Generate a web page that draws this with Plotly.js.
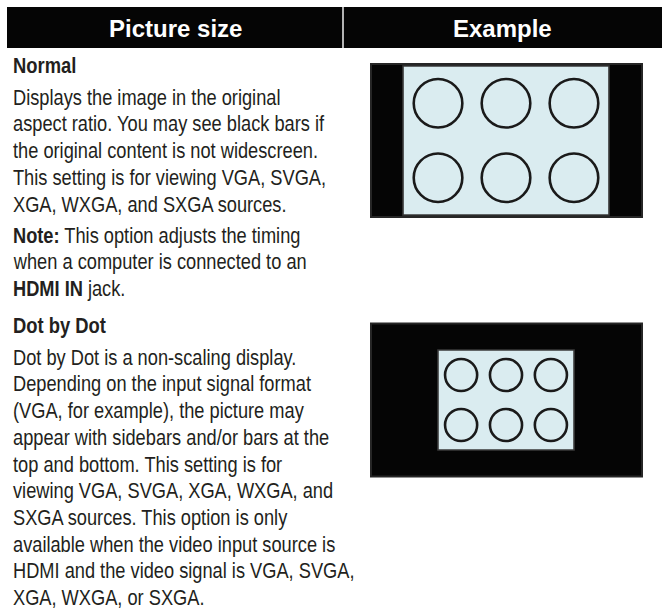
<!DOCTYPE html>
<html>
<head>
<meta charset="utf-8">
<script src="https://cdn.plot.ly/plotly-3.0.1.min.js"></script>
<style>
  html, body { margin: 0; padding: 0; background: #ffffff; }
  #chart { width: 662px; height: 610px; }
</style>
</head>
<body>
<div id="chart"></div>
<script>
// ---------- data ----------
const columnHeaders = ["Picture size", "Example"];
const modeNames = ["Normal", "Dot by Dot"];
const normalLines = [
  "Displays the image in the original",
  "aspect ratio. You may see black bars if",
  "the original content is not widescreen.",
  "This setting is for viewing VGA, SVGA,",
  "XGA, WXGA, and SXGA sources."
];
const noteLines = [
  "<b>Note:</b> This option adjusts the timing",
  "when a computer is connected to an",
  "<b>HDMI IN</b> jack."
];
const dotLines = [
  "Dot by Dot is a non-scaling display.",
  "Depending on the input signal format",
  "(VGA, for example), the picture may",
  "appear with sidebars and/or bars at the",
  "top and bottom. This setting is for",
  "viewing VGA, SVGA, XGA, WXGA, and",
  "SXGA sources. This option is only",
  "available when the video input source is",
  "HDMI and the video signal is VGA, SVGA,",
  "XGA, WXGA, or SXGA."
];
// share of the screen the picture fills in each example (width, height)
const pictureWidthShare = [0.76, 0.502];
const pictureHeightShare = [0.974, 0.654];
const circleCols = 3;
const circleRows = 2;

// ---------- layout helpers ----------
const W = 662, H = 610;
const textColor = "#231f20";
const bodyFamily = "'Liberation Sans', Arial, sans-serif";
const bodyFont = {family: bodyFamily, size: 22.3, color: textColor};
const headFont = {family: bodyFamily, size: 22.5, color: textColor};
const colFont = {family: "'Liberation Sans', Arial, sans-serif", size: 24, color: "#ffffff"};
const BASE = 0.3465; // baseline offset from middle of text box (em)
const CONDENSE = 0.818; // horizontal squeeze to imitate the condensed face

const annotations = [];
const shapes = [];

function addLine(text, baseline, font) {
  annotations.push({
    xref: "x", yref: "y", x: 11, y: baseline - BASE * font.size,
    xanchor: "left", yanchor: "middle", showarrow: false,
    text: text, font: font, align: "left"
  });
}

// header band
const bandTop = 7, bandBottom = 48, bandLeft = 7, divider = 343;
shapes.push({type: "rect", xref: "x", yref: "y", x0: bandLeft, x1: divider - 0.7, y0: bandTop, y1: bandBottom,
  fillcolor: "#050505", line: {width: 0}, layer: "below"});
shapes.push({type: "rect", xref: "x", yref: "y", x0: divider + 0.7, x1: W, y0: bandTop, y1: bandBottom,
  fillcolor: "#050505", line: {width: 0}, layer: "below"});
const colCenters = [(bandLeft + divider) / 2, (divider + W) / 2];
columnHeaders.forEach((t, i) => {
  annotations.push({
    xref: "x", yref: "y", x: colCenters[i], y: 37.3 - BASE * colFont.size,
    xanchor: "center", yanchor: "middle", showarrow: false,
    text: "<b>" + t + "</b>", font: colFont
  });
});

// text column
const pitch = 26.7;
let b = 73;
addLine("<b>" + modeNames[0] + "</b>", b, headFont);
b = 105;
normalLines.forEach((t, i) => addLine(t, b + i * pitch, bodyFont));
b = b + (normalLines.length - 1) * pitch + 31.2;
noteLines.forEach((t, i) => addLine(t, b + i * pitch, bodyFont));
b = b + (noteLines.length - 1) * pitch + 36.6;
addLine("<b>" + modeNames[1] + "</b>", b, headFont);
b = b + 32;
dotLines.forEach((t, i) => addLine(t, b + i * pitch, bodyFont));

// example pictures
const boxLeft = 371, boxRight = 642, boxH = 153;
const boxTops = [64, 323.5];
modeNames.forEach((m, k) => {
  const y0 = boxTops[k], y1 = y0 + boxH;
  shapes.push({type: "rect", xref: "x", yref: "y", x0: boxLeft, x1: boxRight, y0: y0, y1: y1,
    fillcolor: "#050505", line: {color: "#262626", width: 2}});
  const bw = (boxRight - boxLeft) * pictureWidthShare[k];
  const bh = boxH * pictureHeightShare[k];
  const cx = (boxLeft + boxRight) / 2 - 0.5, cy = (y0 + y1) / 2;
  shapes.push({type: "rect", xref: "x", yref: "y", x0: cx - bw / 2, x1: cx + bw / 2, y0: cy - bh / 2, y1: cy + bh / 2,
    fillcolor: "#daecf0", line: {color: "#3a3a3a", width: 1.6}});
  const r = 0.118 * bw;
  for (let j = 0; j < circleRows; j++) {
    for (let i = 0; i < circleCols; i++) {
      const px = cx + (i - (circleCols - 1) / 2) * 0.33 * bw;
      const py = cy + (j - (circleRows - 1) / 2) * 0.5 * bh;
      shapes.push({type: "circle", xref: "x", yref: "y", x0: px - r, x1: px + r, y0: py - r, y1: py + r,
        fillcolor: "rgba(0,0,0,0)", line: {color: "#1a1a1a", width: 2.6}});
    }
  }
});

const layout = {
  width: W, height: H,
  margin: {l: 0, r: 0, t: 0, b: 0, pad: 0},
  paper_bgcolor: "#ffffff", plot_bgcolor: "#ffffff",
  showlegend: false,
  xaxis: {range: [0, W], visible: false, fixedrange: true},
  yaxis: {range: [H, 0], visible: false, fixedrange: true},
  shapes: shapes,
  annotations: annotations
};

Plotly.newPlot("chart", [{x: [], y: [], type: "scatter", mode: "markers", hoverinfo: "skip"}], layout,
  {displayModeBar: false, staticPlot: true}).then(gd => {
  gd.querySelectorAll("g.annotation").forEach(g => {
    const idx = +g.getAttribute("data-index");
    if (idx >= columnHeaders.length) {
      const t = g.querySelector("text.annotation-text");
      if (t) {
        t.style.transformBox = "fill-box";
        t.style.transformOrigin = "0% 50%";
        t.style.transform = "scaleX(" + CONDENSE + ")";
      }
    }
  });
});
</script>
</body>
</html>
